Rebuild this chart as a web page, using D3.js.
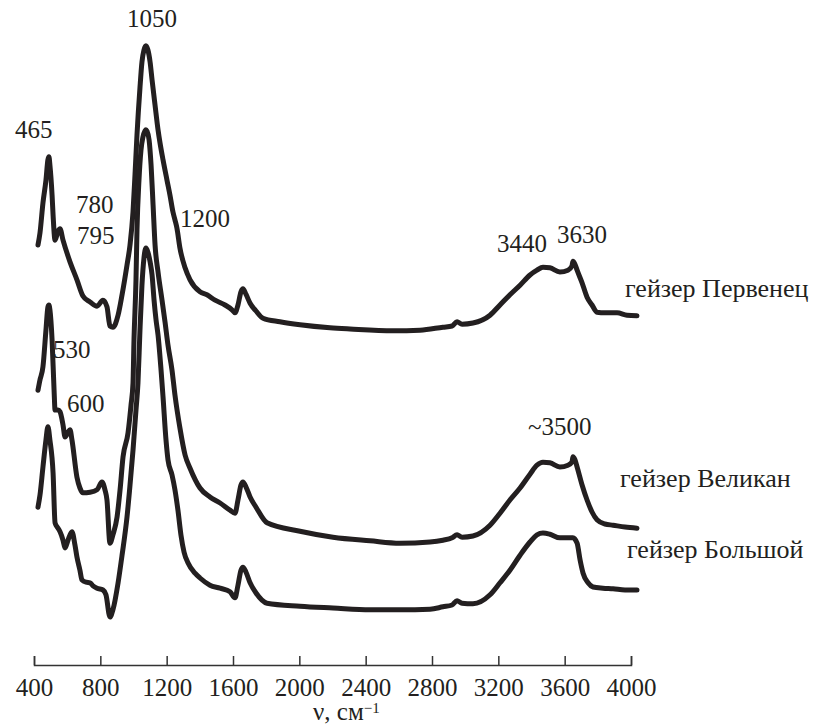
<!DOCTYPE html>
<html>
<head>
<meta charset="utf-8">
<script src="https://cdn.jsdelivr.net/npm/d3@7"></script>
<style>
  body { margin: 0; background: #fff; }
  svg text { font-family: "Liberation Serif", "DejaVu Serif", serif; fill: #231f20; }
</style>
</head>
<body>
<svg id="chart" width="824" height="727"></svg>
<script>
// wavenumber, cm-1  /  absorbance, arbitrary units (curves offset vertically)
const pervenec = [
  [424,67.5],[436,69.5],[454,74.5],[472,78.3],[484,81.7],[490,82.2],[496,80.8],[509,75.8],[515,72.5],
  [527,68.3],[545,69.8],[557,70.2],[575,68.3],[617,64.7],[659,61.7],[695,59.0],[738,58.0],[780,57.3],
  [816,58.3],[840,57.2],[858,54.0],[876,53.8],[907,55.8],[931,59.2],[961,64.2],[979,67.5],[997,73.0],
  [1009,79.2],[1021,85.8],[1039,93.7],[1051,98.0],[1063,100.0],[1075,100.7],[1087,100.0],[1100,98.0],
  [1112,95.0],[1130,90.8],[1148,86.7],[1160,84.5],[1178,81.7],[1202,78.3],[1220,75.8],[1238,73.0],
  [1250,71.7],[1262,70.3],[1280,67.0],[1311,63.7],[1341,61.7],[1401,59.7],[1443,59.2],[1492,58.3],
  [1552,57.5],[1594,56.7],[1612,56.2],[1630,57.5],[1648,59.7],[1660,60.2],[1678,59.3],[1703,57.8],
  [1739,56.5],[1781,55.3],[1883,54.7],[2004,54.2],[2185,53.7],[2306,53.5],[2565,53.2],[2728,53.3],
  [2866,53.8],[2921,54.0],[2951,54.7],[2981,54.3],[3047,54.5],[3150,55.8],[3210,57.5],[3270,59.2],
  [3331,60.8],[3391,62.5],[3433,63.3],[3469,63.8],[3511,63.7],[3571,63.0],[3620,63.3],[3644,64.0],
  [3650,64.8],[3662,64.3],[3675,63.3],[3705,61.2],[3735,58.8],[3765,57.5],[3795,56.3],[3843,56.2],
  [3916,56.2],[3976,55.8],[4036,55.7]
];

const velikan = [
  [424,43.3],[436,45.0],[454,47.2],[472,53.3],[484,57.2],[490,57.5],[496,56.7],[509,51.7],[521,43.3],
  [527,40.0],[545,40.0],[557,39.7],[575,37.5],[587,35.5],[605,36.3],[617,36.7],[629,35.0],[659,28.8],
  [677,27.0],[695,26.2],[738,26.3],[780,26.7],[810,28.0],[828,26.7],[840,25.0],[858,17.8],[876,19.2],
  [901,22.2],[919,26.7],[937,32.2],[967,36.2],[985,40.8],[997,44.5],[1003,51.7],[1015,61.7],[1021,70.0],
  [1033,78.3],[1045,83.3],[1057,85.5],[1069,86.5],[1075,86.7],[1081,86.5],[1094,85.0],[1106,80.8],
  [1118,74.2],[1130,67.5],[1148,63.0],[1172,58.3],[1190,54.7],[1208,50.8],[1232,46.7],[1250,42.5],
  [1280,37.0],[1311,32.5],[1341,30.3],[1401,27.0],[1461,25.5],[1522,24.5],[1582,23.3],[1612,22.8],
  [1630,25.0],[1648,27.5],[1660,28.0],[1678,27.2],[1703,25.5],[1739,23.8],[1805,21.2],[2004,19.8],
  [2203,18.8],[2426,18.2],[2607,17.8],[2788,18.0],[2866,18.3],[2921,18.7],[2951,19.2],[2981,18.8],
  [3047,19.0],[3150,20.8],[3210,22.8],[3270,25.0],[3331,27.0],[3391,29.3],[3433,30.8],[3469,31.3],
  [3511,31.2],[3571,30.5],[3620,30.8],[3644,31.3],[3650,32.2],[3662,31.7],[3675,30.5],[3705,27.5],
  [3735,25.0],[3765,23.0],[3795,21.7],[3843,21.0],[3892,20.8],[3964,20.5],[4036,20.3]
];

const bolshoy = [
  [424,23.8],[436,25.8],[454,30.5],[472,35.0],[484,37.2],[496,35.0],[515,29.5],[527,21.2],[545,20.3],
  [557,19.7],[575,18.3],[587,17.0],[605,18.3],[629,19.7],[647,17.5],[659,15.5],[677,13.3],[689,11.7],
  [714,11.3],[738,11.2],[756,10.7],[780,10.3],[816,10.0],[834,9.2],[858,5.5],[876,6.7],[907,11.2],
  [931,15.8],[961,22.2],[979,27.5],[997,33.3],[1015,40.0],[1027,44.5],[1039,53.3],[1051,60.8],
  [1063,65.3],[1075,67.0],[1087,66.3],[1100,64.7],[1112,62.5],[1124,58.3],[1136,55.0],[1148,52.5],
  [1166,46.7],[1178,42.2],[1196,35.0],[1208,31.7],[1232,29.2],[1250,26.7],[1268,23.3],[1286,19.2],
  [1305,16.3],[1329,14.5],[1371,12.8],[1401,12.0],[1461,10.8],[1522,10.3],[1582,9.7],[1612,8.7],
  [1630,10.8],[1648,13.3],[1660,13.8],[1678,13.0],[1703,11.2],[1739,9.5],[1805,7.8],[2004,7.3],
  [2203,7.0],[2426,6.7],[2607,6.7],[2788,6.8],[2866,7.2],[2921,7.5],[2951,8.2],[2981,7.8],[3047,7.7],
  [3150,9.2],[3210,11.2],[3270,13.3],[3331,15.8],[3391,18.0],[3433,19.2],[3469,19.5],[3511,19.3],
  [3571,18.7],[3620,18.7],[3650,18.7],[3675,17.8],[3693,15.0],[3711,12.8],[3741,11.2],[3771,10.5],
  [3831,10.3],[3892,10.2],[3964,10.0],[4036,10.0]
];

const xTicks = [400, 800, 1200, 1600, 2000, 2400, 2800, 3200, 3600, 4000];

// peak labels: text, anchor wavenumber, anchor value
const peakLabels = [
  ["1050", 961, 103.8], ["465", 285, 85.3], ["780", 653, 72.8], ["795", 659, 67.7],
  ["1200", 1280, 70.5], ["530", 515, 48.7], ["600", 599, 39.7], ["3440", 3192, 66.3],
  ["3630", 3554, 67.8], ["~3500", 3379, 35.8]
];

const seriesNames = ["гейзер Первенец", "гейзер Великан", "гейзер Большой"];
const seriesLabelPos = [[3964, 58.8], [3934, 27.2], [3976, 15.3]];

const svg = d3.select("#chart");
const x = d3.scaleLinear().domain([400, 4000]).range([34, 631]);
const y = d3.scaleLinear().domain([0, 100]).range([650, 50]);

const line = d3.line()
  .x(d => x(d[0]))
  .y(d => y(d[1]))
  .curve(d3.curveMonotoneX);

svg.selectAll(".spectrum")
  .data([pervenec, velikan, bolshoy])
  .enter()
  .append("path")
  .attr("class", "spectrum")
  .attr("d", line)
  .attr("fill", "none")
  .attr("stroke", "#231f20")
  .attr("stroke-width", 5)
  .attr("stroke-linejoin", "round")
  .attr("stroke-linecap", "round");

const axis = svg.append("g")
  .attr("transform", "translate(0,665)")
  .call(d3.axisBottom(x)
    .tickValues(xTicks)
    .tickFormat(d3.format("d"))
    .tickSizeInner(-9)
    .tickSizeOuter(-9)
    .tickPadding(13));

axis.select(".domain").attr("stroke", "#333").attr("stroke-width", 1.5);
axis.selectAll(".tick line").attr("stroke", "#333").attr("stroke-width", 1.5);
axis.selectAll(".tick text")
  .attr("font-size", 25)
  .attr("font-family", "Liberation Serif")
  .attr("fill", "#231f20");

const title = svg.append("text")
  .attr("x", 313)
  .attr("y", 720)
  .attr("font-size", 25);
title.append("tspan").text("ν, см");
title.append("tspan").attr("dy", -7).attr("font-size", 15).text("−1");

svg.selectAll(".peak")
  .data(peakLabels)
  .enter()
  .append("text")
  .attr("class", "peak")
  .attr("x", d => x(d[1]))
  .attr("y", d => y(d[2]))
  .attr("font-size", 25)
  .text(d => d[0]);

svg.selectAll(".name")
  .data(seriesNames)
  .enter()
  .append("text")
  .attr("class", "name")
  .attr("x", (d, i) => x(seriesLabelPos[i][0]))
  .attr("y", (d, i) => y(seriesLabelPos[i][1]))
  .attr("font-size", 26)
  .text(d => d);
</script>
</body>
</html>
